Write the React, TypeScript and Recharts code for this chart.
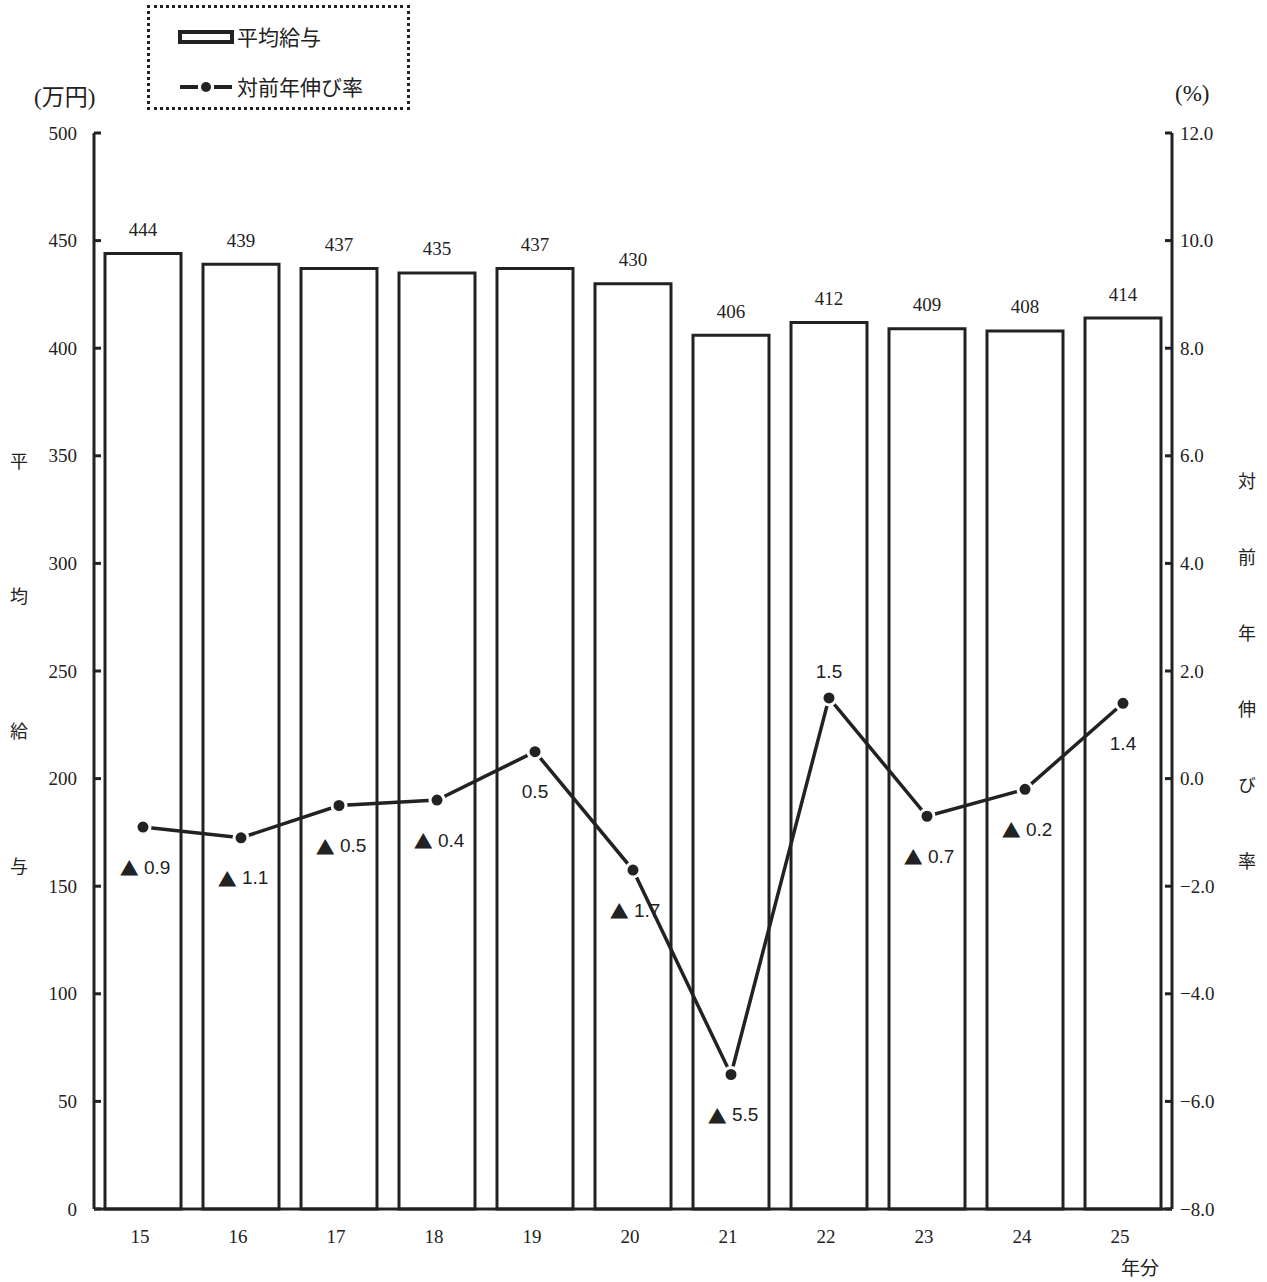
import React from "react";
import {
  ComposedChart,
  Bar,
  Line,
  XAxis,
  YAxis,
  LabelList,
} from "recharts";

// 年分 (平成)
const years = ["15", "16", "17", "18", "19", "20", "21", "22", "23", "24", "25"];
// 平均給与 (万円)
const salary = [444, 439, 437, 435, 437, 430, 406, 412, 409, 408, 414];
// 対前年伸び率 (%)
const growth = [-0.9, -1.1, -0.5, -0.4, 0.5, -1.7, -5.5, 1.5, -0.7, -0.2, 1.4];

const leftTicks = [0, 50, 100, 150, 200, 250, 300, 350, 400, 450, 500];
const rightTicks = [-8, -6, -4, -2, 0, 2, 4, 6, 8, 10, 12];

const data = years.map((y, i) => ({ year: y, salary: salary[i], growth: growth[i] }));

const INK = "#222";
const SERIF = "'Liberation Serif', 'DejaVu Serif', serif";
const SANS = "'Liberation Sans', 'Noto Sans CJK JP', sans-serif";
const CJK = "'Noto Sans CJK JP', sans-serif";

const maxGrowth = Math.max(...growth);

const fmtRight = (v: number) => (v < 0 ? "\u2212" + Math.abs(v).toFixed(1) : v.toFixed(1));

// serif tick text, anchor chosen per axis
function SerifTick(props: any) {
  const { x, y, payload, textAnchor, formatter, dx, dy } = props;
  const label = formatter ? formatter(payload.value) : payload.value;
  return (
    <text
      x={x + (dx ?? 0)}
      y={y + (dy ?? 0)}
      textAnchor={textAnchor}
      dominantBaseline="central"
      fontFamily={SERIF}
      fontSize={19}
      fill={INK}
    >
      {label}
    </text>
  );
}

function SalaryLabel(props: any) {
  const { x, y, width, value } = props;
  return (
    <text
      x={x + width / 2}
      y={y - 24}
      textAnchor="middle"
      dominantBaseline="central"
      fontFamily={SERIF}
      fontSize={19}
      fill={INK}
    >
      {value}
    </text>
  );
}

function GrowthLabel(props: any) {
  const { x, y, value } = props;
  const above = value === maxGrowth;
  const neg = value < 0;
  return (
    <text
      x={x + (neg ? 2 : 0)}
      y={above ? y - 26 : y + 40}
      textAnchor="middle"
      dominantBaseline="central"
      fontFamily={SANS}
      fontSize={19}
      fill={INK}
    >
      {neg && (
        <tspan fontFamily={CJK} fontSize={19}>
          ▲
        </tspan>
      )}
      {neg ? " " + Math.abs(value).toFixed(1) : value.toFixed(1)}
    </text>
  );
}

function LegendBox() {
  return (
    <div
      style={{
        position: "absolute",
        left: 147,
        top: 5,
        width: 257,
        height: 99,
        border: `3px dotted ${INK}`,
        fontFamily: CJK,
        fontSize: 21,
        color: INK,
      }}
    >
      <svg width={60} height={20} style={{ position: "absolute", left: 28, top: 20 }}>
        <rect x={2} y={4} width={52} height={10} fill="#fff" stroke={INK} strokeWidth={4} />
      </svg>
      <div style={{ position: "absolute", left: 87, top: 14, lineHeight: "28px" }}>平均給与</div>
      <svg width={60} height={20} style={{ position: "absolute", left: 28, top: 69 }}>
        <line x1={2} y1={10} x2={20} y2={10} stroke={INK} strokeWidth={4} />
        <line x1={36} y1={10} x2={54} y2={10} stroke={INK} strokeWidth={4} />
        <circle cx={28} cy={10} r={5} fill={INK} />
      </svg>
      <div style={{ position: "absolute", left: 87, top: 64, lineHeight: "28px" }}>対前年伸び率</div>
    </div>
  );
}

export default function App() {
  return (
    <div
      style={{
        position: "absolute",
        left: 0,
        top: 0,
        width: 1267,
        height: 1282,
        background: "#fff",
      }}
    >
      <ComposedChart
        width={1267}
        height={1282}
        data={data}
        margin={{ top: 133, right: 9, bottom: 33, left: 8 }}
        barSize={76}
      >
        <XAxis
          dataKey="year"
          axisLine={{ stroke: INK, strokeWidth: 3 }}
          tickLine={false}
          tickMargin={26}
          height={40}
          tick={<SerifTick textAnchor="middle" dx={-3} dy={-5} />}
        />
        <YAxis
          yAxisId="left"
          orientation="left"
          domain={[0, 500]}
          ticks={leftTicks}
          interval={0}
          width={86}
          axisLine={{ stroke: INK, strokeWidth: 3 }}
          tickLine={{ stroke: INK, strokeWidth: 3 }}
          tickSize={-7}
          tickMargin={24}
          tick={<SerifTick textAnchor="end" />}
        />
        <YAxis
          yAxisId="right"
          orientation="right"
          domain={[-8, 12]}
          ticks={rightTicks}
          interval={0}
          width={86}
          axisLine={{ stroke: INK, strokeWidth: 3 }}
          tickLine={{ stroke: INK, strokeWidth: 3 }}
          tickSize={-7}
          tickMargin={15}
          tick={<SerifTick textAnchor="start" formatter={fmtRight} />}
        />
        <Bar
          yAxisId="left"
          dataKey="salary"
          fill="#fff"
          stroke={INK}
          strokeWidth={3}
          isAnimationActive={false}
        >
          <LabelList dataKey="salary" content={<SalaryLabel />} />
        </Bar>
        <Line
          yAxisId="right"
          dataKey="growth"
          type="linear"
          stroke={INK}
          strokeWidth={3.5}
          dot={{ r: 7, fill: INK, stroke: "#fff", strokeWidth: 3 }}
          activeDot={false}
          isAnimationActive={false}
        >
          <LabelList dataKey="growth" content={<GrowthLabel />} />
        </Line>
      </ComposedChart>

      <LegendBox />

      <div style={{ position: "absolute", left: 34, top: 78, fontFamily: `${SERIF.split(",")[0]}, ${CJK}`, fontSize: 23, color: INK }}>
        (万円)
      </div>
      <div style={{ position: "absolute", left: 1175, top: 81, fontFamily: SERIF, fontSize: 23, color: INK }}>
        (%)
      </div>
      <div
        style={{
          position: "absolute",
          left: 10,
          top: 452,
          writingMode: "vertical-rl",
          letterSpacing: 117,
          fontFamily: CJK,
          fontSize: 18,
          lineHeight: "18px",
          color: INK,
        }}
      >
        平均給与
      </div>
      <div
        style={{
          position: "absolute",
          left: 1238,
          top: 472,
          writingMode: "vertical-rl",
          letterSpacing: 58,
          fontFamily: CJK,
          fontSize: 18,
          lineHeight: "18px",
          color: INK,
        }}
      >
        対前年伸び率
      </div>
      <div style={{ position: "absolute", left: 1121, top: 1253, fontFamily: CJK, fontSize: 19, color: INK }}>
        年分
      </div>
    </div>
  );
}
